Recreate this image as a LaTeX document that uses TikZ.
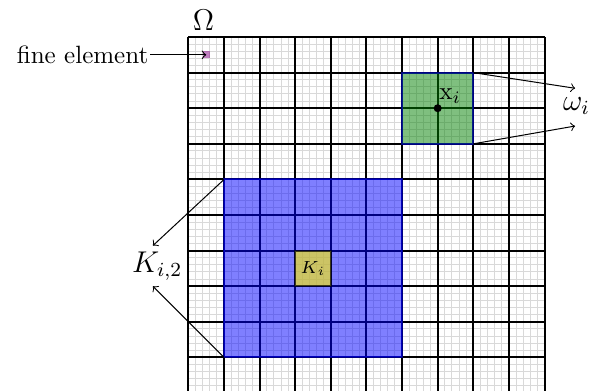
\documentclass[tikz,border=0pt]{standalone}
\usepackage{amsmath}
\begin{document}
\begin{tikzpicture}[
  fineline/.style={gray!30, line width=0.4pt},
  coarseline/.style={black, line width=0.8pt},
  conn/.style={->, line width=0.4pt},
  region/.style={inner sep=0pt, outer sep=0pt, draw=blue, line width=0.8pt, fill opacity=0.5, draw opacity=0.5, text opacity=1},
]
\useasboundingbox (-2.647,0.042) rectangle (5.667,5.52);
\clip (-2.647,0.042) rectangle (5.667,5.52);
% grids
\draw[fineline, step=0.1] (0,0) grid (5,5);
\draw[coarseline, step=0.5] (0,0) grid (5,5);
% regions
\node[region, fill=blue, minimum size=2.5cm] (K2) at (1.75,1.75) {};
\node[region, fill=green!50!black, minimum size=1cm] (om) at (3.5,4) {};
\node[inner sep=0pt, outer sep=0pt, minimum size=0.5cm, fill=yellow, draw=black, line width=0.8pt, fill opacity=0.6, draw opacity=0.6, text opacity=1, font=\scriptsize] (Ki) at (1.75,1.75) {$K_i$};
\node[inner sep=0pt, outer sep=0pt, minimum size=0.1cm, fill=violet, fill opacity=0.5] (fine) at (0.25,4.75) {};
% point x_i
\node[circle, fill=black, inner sep=0pt, minimum size=3.2pt] (xi) at (3.5,4) {};
\node[anchor=south west, inner sep=0.5pt] (xl) at (3.5,4.04) {$\mathrm{x}_i$};
% labels
\node[font=\large] (Om) at (0.21,5.24) {$\Omega$};
\node[anchor=east, inner sep=0.5pt] (fe) at (-0.54,4.75) {fine element};
\node[font=\large] (w) at (5.45,4.03) {$\omega_i$};
\node[font=\large] (kl) at (-0.44,1.78) {$K_{i,2}$};
% connector ends
\coordinate (wt) at (5.43,4.28);
\coordinate (wb) at (5.43,3.75);
\coordinate (kt) at (-0.5,2.07);
\coordinate (kb) at (-0.5,1.5);
% connectors
\draw[conn] (fe.east) -- (fine.center);
\draw[conn] (om.north east) -- (wt);
\draw[conn] (om.south east) -- (wb);
\draw[conn] (K2.north west) -- (kt);
\draw[conn] (K2.south west) -- (kb);
\end{tikzpicture}
\end{document}
